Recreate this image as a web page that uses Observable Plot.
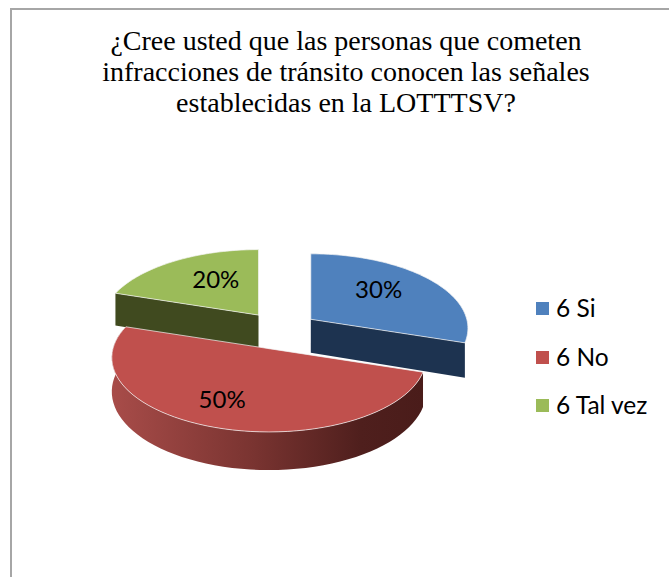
<!DOCTYPE html>
<html><head><meta charset="utf-8">
<script src="https://cdn.jsdelivr.net/npm/d3@7"></script>
<script src="https://cdn.jsdelivr.net/npm/@observablehq/plot@0.6"></script>
<style>
html,body{margin:0;padding:0;background:#fff}
#page{position:relative;width:669px;height:577px;overflow:hidden}
#frame{position:absolute;left:10px;top:8px;width:670px;height:600px;border:2px solid #a6a6a6;box-sizing:border-box}
#title{position:absolute;left:0;width:692px;top:25px;text-align:center;font:28px/31px "Liberation Serif",serif;color:#000}
#chart{position:absolute;left:0;top:0}
.lg{position:absolute;left:556px;font:24.5px/24px Lato,sans-serif;color:#000;white-space:pre}
.sw{position:absolute;left:536px;width:13px;height:13px}
</style></head><body>
<div id="page"><div id="frame"></div>
<div id="title">¿Cree usted que las personas que cometen<br>infracciones de tránsito conocen las señales<br>establecidas en la LOTTTSV?</div>
<div id="chart"></div><div id="legend"></div></div>
<script>
const categories = ["6 Si", "6 No", "6 Tal vez"];
const percents = [30, 50, 20];
const tickLabels = ["30%", "50%", "20%"];
const topColors = ["#4f81bd", "#c0504d", "#9bbb59"];
const wallColors = ["#1d3350", "url(#redWall)", "#404a1f"];

// layout of the tilted, exploded pie
const W = 669, H = 577, cx = 280, cy = 330, R = 156;
const tilt = 0.47, persp = 0.12, explodeX = 0.24, explodeY = 0.26, depth = 0.215;
let acc = 0;
const slices = percents.map((p, i) => {
  const a0 = acc / 100 * 2 * Math.PI; acc += p;
  const a1 = acc / 100 * 2 * Math.PI, mid = (a0 + a1) / 2;
  return {i, a0, a1, mid, ex: explodeX * Math.sin(mid), ev: explodeY * Math.cos(mid)};
});
// a point of a slice, relative to its own tip
const project = (sl, u, v, z = 0) => {
  const s = 1 / (1 + persp * v);
  return {x: sl.ex + u * s, y: sl.ev * tilt + (v * tilt - z) * s};
};
const rim = (s, z) =>
  d3.range(0, 61).map(k => {
    const a = s.a0 + (s.a1 - s.a0) * k / 60;
    return project(s, Math.sin(a), Math.cos(a), z);
  });
const topFace = s => {
  const c = project(s, 0, 0);
  return [c, ...rim(s, 0), c];
};
const outerWall = s => [...rim(s, 0), ...rim(s, depth).reverse()];
const radialWall = (s, a) => {
  const c = project(s, 0, 0), c2 = project(s, 0, 0, depth);
  const e = project(s, Math.sin(a), Math.cos(a));
  const e2 = project(s, Math.sin(a), Math.cos(a), depth);
  return [c, e, e2, c2, c];
};
const poly = (pts, fill, extra = {}) =>
  Plot.line(pts, {x: "x", y: "y", fill, stroke: "none", ...extra});
const bevel = {stroke: "#f4f4f4", strokeWidth: 1, strokeOpacity: 0.7};

const [blue, red, green] = slices;
const labelAt = (s, r, dx, dy, text) => {
  const p = project(s, r * Math.sin(s.mid), r * Math.cos(s.mid));
  return Plot.text([p], {x: "x", y: "y", text: () => text, dx, dy,
    fontFamily: "Lato, sans-serif", fontSize: 24, fill: "#000"});
};

const defs = () => {
  const ns = "http://www.w3.org/2000/svg";
  const g = document.createElementNS(ns, "defs");
  g.innerHTML = `<linearGradient id="redWall" x1="0" x2="1" y1="0" y2="0">
    <stop offset="0" stop-color="#a84c49"/><stop offset="0.45" stop-color="#7a3431"/>
    <stop offset="0.8" stop-color="#4f1f1d"/><stop offset="1" stop-color="#4a1c1a"/></linearGradient>`;
  return g;
};

const plot = Plot.plot({
  width: W, height: H, margin: 0,
  x: {domain: [-cx / R, (W - cx) / R], range: [0, W], axis: null},
  y: {domain: [(cy - H) / R, cy / R], range: [H, 0], axis: null},
  style: {background: "transparent"},
  marks: [
    defs,
    poly(radialWall(green, green.a0), wallColors[2]),
    poly(topFace(green), topColors[2], bevel),
    poly(radialWall(blue, blue.a1), wallColors[0]),
    poly(topFace(blue), topColors[0], bevel),
    poly(outerWall(red), wallColors[1]),
    poly(topFace(red), topColors[1], bevel),
    labelAt(blue, 0.55, 1, -6, tickLabels[0]),
    labelAt(red, 0.72, -9, -3, tickLabels[1]),
    labelAt(green, 0.5, 1, -6, tickLabels[2])
  ]
});
document.getElementById("chart").append(plot);

const legendTops = [308, 357, 405];
const lg = document.getElementById("legend");
categories.forEach((c, i) => {
  const sw = document.createElement("div"); sw.className = "sw";
  sw.style.top = (legendTops[i] - 6) + "px"; sw.style.background = topColors[i];
  const t = document.createElement("div"); t.className = "lg";
  t.style.top = (legendTops[i] - 12) + "px"; t.textContent = c;
  lg.append(sw, t);
});
</script></body></html>
